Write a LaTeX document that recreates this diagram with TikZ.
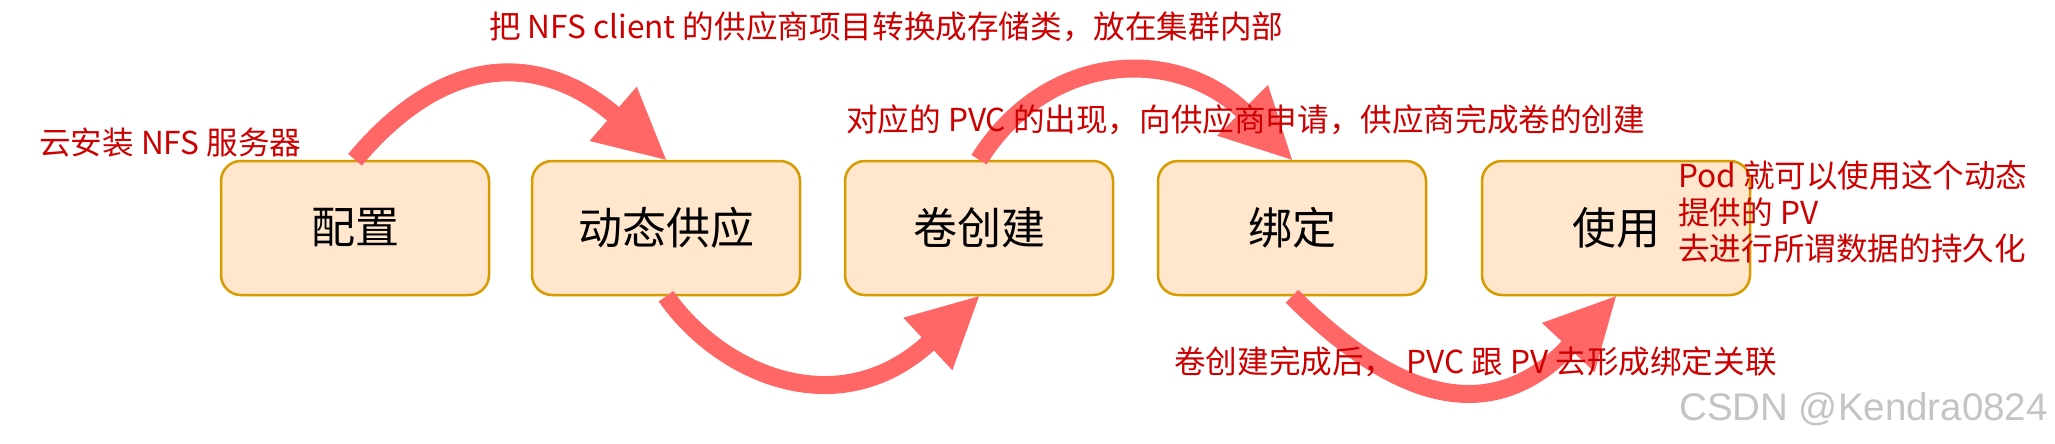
\documentclass[tikz,border=0pt]{standalone}
\usepackage{fontspec}
\setmainfont{Noto Sans CJK SC}
\newfontfamily\wmfont{Liberation Sans}
\usetikzlibrary{calc}
\definecolor{boxfill}{HTML}{FFE6CC}
\definecolor{boxline}{HTML}{D79B00}
\definecolor{notered}{HTML}{CC0000}
\definecolor{arrowred}{HTML}{FF6666}
\definecolor{wmgray}{HTML}{C4C4C4}
\tikzset{
  stage/.style={draw=boxline, fill=boxfill, line width=2.5pt, rounded corners=20pt,
    minimum width=268pt, minimum height=134pt, inner sep=0pt,
    font=\fontsize{44}{52}\selectfont},
  note/.style={text=notered, inner sep=0pt, font=\fontsize{31.6}{36.5}\selectfont},
  flow/.style={draw=arrowred, line width=18pt},
  flowhead/.style={fill=arrowred},
}
% #1 start, #2 out angle, #3 out length, #4 tip, #5 head direction, #6 in length
\newcommand{\flowarrow}[6]{%
  \path (#4) ++(#5+180:66) coordinate (hb);
  \draw[flow] (#1) .. controls +(#2:#3) and +(#5+180:#6) .. (hb);
  \fill[flowhead] (#4) -- ($(#4)+(#5+180:70)+(#5+90:36)$) -- ($(#4)+(#5+180:70)+(#5-90:36)$) -- cycle;
}
\begin{document}
\begin{tikzpicture}[x=1pt,y=1pt]
\useasboundingbox (0,0) rectangle (2055,-444);
\fill[white] (0,0) rectangle (2055,-444);

\node[stage] (n1) at (355,-228) {配置};
\node[stage] (n2) at (666,-228) {动态供应};
\node[stage] (n3) at (979,-228) {卷创建};
\node[stage] (n4) at (1292,-228) {绑定};
\node[stage] (n5) at (1616,-228) {使用};

\flowarrow{n1.north}{50}{155}{n2.north}{-41}{85}
\flowarrow{n2.south}{-55}{95}{n3.south}{43}{125}
\flowarrow{n3.north}{58}{130}{n4.north}{-45}{95}
\flowarrow{n4.south}{-45}{140}{n5.south}{47}{120}

\node[note, anchor=west] (t1) at (39,-143) {云安装 NFS 服务器};
\node[note, anchor=west] (t2) at (489,-27) {把 NFS client 的供应商项目转换成存储类，放在集群内部};
\node[note, anchor=west] (t3) at (846,-120) {对应的 PVC 的出现，向供应商申请，供应商完成卷的创建};
\node[note, anchor=west] (t4) at (1174,-362) {卷创建完成后，\hspace{4pt} PVC 跟 PV 去形成绑定关联};
\node[note, anchor=west, align=left] (t5) at (1678,-212) {Pod 就可以使用这个动态\\提供的 PV\\去进行所谓数据的持久化};
\node[anchor=west, inner sep=0pt, text=wmgray, font=\wmfont\fontsize{38.5}{44}\selectfont] (wm) at (1679,-409) {CSDN @Kendra0824};
\end{tikzpicture}
\end{document}
